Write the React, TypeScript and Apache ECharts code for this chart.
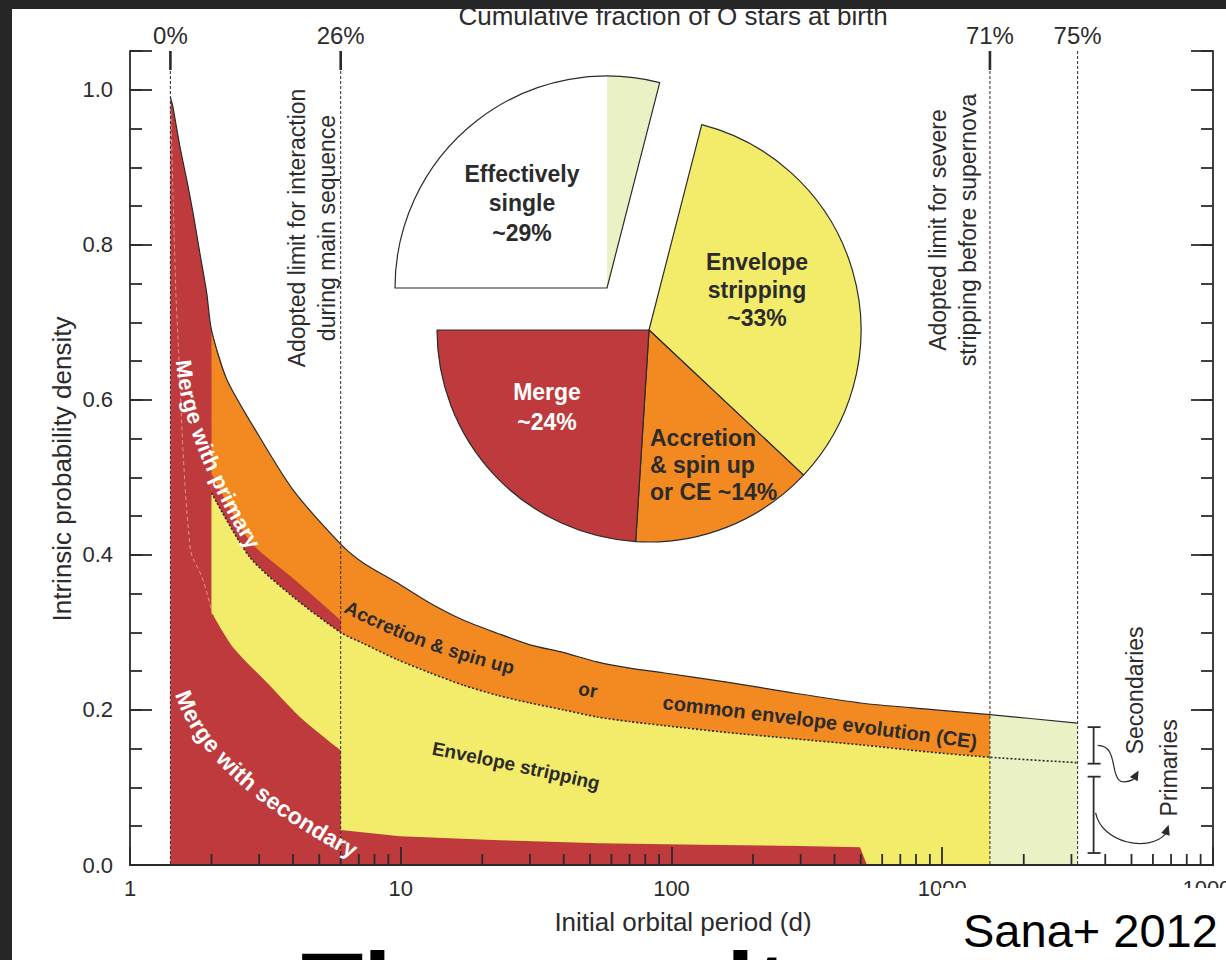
import React, { useEffect, useRef } from "react";
import * as echarts from "echarts";

const FONT = '"Liberation Sans", Arial, Helvetica, sans-serif';
const INK = "#2b2b2b";
const RED = "#BE3A3D";
const ORANGE = "#F28A21";
const YELLOW = "#F3EC6B";
const PALE = "#E9F1C5";
const FRAME = "#262626";

// Outer envelope: all O stars that interact (period in days, density)
const totalPeriods = [1.41, 1.44, 1.53, 1.62, 1.71, 1.81, 1.92, 2.0, 2.28, 3.0, 4.0, 6.0, 7.25, 9.7, 12.8, 17, 22.7, 30, 40, 53, 70, 93, 160, 280, 500, 880, 1500, 3162];
const totalDensity = [0.99, 0.978, 0.926, 0.884, 0.841, 0.79, 0.738, 0.69, 0.626, 0.553, 0.484, 0.414, 0.39, 0.364, 0.338, 0.316, 0.299, 0.284, 0.274, 0.262, 0.254, 0.248, 0.236, 0.222, 0.209, 0.201, 0.194, 0.183];

// Dotted curve separating secondaries from primaries
const splitPeriods = [2.0, 2.77, 4.0, 6.0, 7.25, 9.7, 12.8, 17, 22.7, 30, 40, 53, 70, 93, 160, 280, 500, 880, 1500, 3162];
const splitDensity = [0.48, 0.397, 0.346, 0.30, 0.286, 0.265, 0.248, 0.232, 0.219, 0.209, 0.2, 0.191, 0.185, 0.18, 0.171, 0.163, 0.155, 0.146, 0.139, 0.132];

// Upper edge of the "merge with primary" band
const mergePrimaryPeriods = [2.0, 2.77, 4.0, 6.0];
const mergePrimaryDensity = [0.505, 0.418, 0.37, 0.316];

// Upper edge of the "merge with secondary" region
const mergeSecShortPeriods = [2.0, 2.4, 3.21, 4.24, 6.0];
const mergeSecShortDensity = [0.326, 0.281, 0.235, 0.191, 0.148];
const mergeSecLongPeriods = [6.0, 9.94, 23.2, 54.4, 127, 298, 497, 527];
const mergeSecLongDensity = [0.045, 0.037, 0.032, 0.028, 0.026, 0.0245, 0.023, 0];

// Faint trace of the secondary-merger edge inside the shortest-period strip
const faintPeriods = [1.41, 1.466, 1.488, 1.666, 1.86, 2.0];
const faintDensity = [0.99, 0.777, 0.712, 0.41, 0.368, 0.329];

// Adopted period limits and the cumulative fraction of O stars at each
const limitPeriods = [1.41, 6, 1500, 3162];
const cumulativeFraction = [0, 26, 71, 75];

// Pie shares (%)
const shareMerge = 24;
const shareAccretion = 14;
const shareStripping = 33;
const shareSingle = 100 - cumulativeFraction[2];
const shareWide = cumulativeFraction[3] - cumulativeFraction[2];

// Log-axis minor ticks
const tickDecades = [1, 10, 100, 1000];
const tickMantissas = [2, 3, 4, 5, 6, 7, 8, 9];

const Y_MAX = 1.05;
const SMOOTH = 0.25;

const zip = (xs: number[], ys: number[]) => xs.map((x, i) => [x, ys[i]]);
const within = (xs: number[], ys: number[], lo: number, hi: number) =>
  zip(xs, ys).filter(([x]) => x >= lo && x <= hi);

let measureCtx: CanvasRenderingContext2D | null = null;
function textWidth(text: string, font: string) {
  if (!measureCtx) measureCtx = document.createElement("canvas").getContext("2d");
  measureCtx!.font = font;
  return measureCtx!.measureText(text).width;
}

// Lay a string out letter by letter along a quadratic Bezier, centred on it
function textOnCurve(
  text: string,
  p0: number[],
  c: number[],
  p2: number[],
  size: number,
  fill: string,
  weight = "bold"
) {
  const font = `${weight} ${size}px ${FONT}`;
  const N = 160;
  const pts: number[][] = [];
  for (let i = 0; i <= N; i++) {
    const t = i / N;
    const a = (1 - t) * (1 - t), b = 2 * (1 - t) * t, d = t * t;
    pts.push([a * p0[0] + b * c[0] + d * p2[0], a * p0[1] + b * c[1] + d * p2[1]]);
  }
  const cum = [0];
  for (let i = 1; i <= N; i++) {
    cum.push(cum[i - 1] + Math.hypot(pts[i][0] - pts[i - 1][0], pts[i][1] - pts[i - 1][1]));
  }
  const L = cum[N];
  const W = textWidth(text, font);
  const start = (L - W) / 2;
  const out: any[] = [];
  for (let i = 0; i < text.length; i++) {
    const ch = text[i];
    if (ch === " ") continue;
    const s = start + textWidth(text.slice(0, i), font) + textWidth(ch, font) / 2;
    let k = 1;
    const sc = Math.min(Math.max(s, 0), L);
    while (k < N && cum[k] < sc) k++;
    const seg = cum[k] - cum[k - 1] || 1;
    const f = (s - cum[k - 1]) / seg;
    const x = pts[k - 1][0] + f * (pts[k][0] - pts[k - 1][0]);
    const y = pts[k - 1][1] + f * (pts[k][1] - pts[k - 1][1]);
    const ang = Math.atan2(pts[k][1] - pts[k - 1][1], pts[k][0] - pts[k - 1][0]);
    out.push({
      type: "text",
      x,
      y,
      rotation: -ang,
      z: 100,
      silent: true,
      style: {
        text: ch,
        font,
        fill,
        align: "center",
        verticalAlign: "middle",
        textAlign: "center",
        textVerticalAlign: "middle",
      },
    });
  }
  return out;
}

function label(
  text: string,
  x: number,
  y: number,
  size: number,
  opts: { weight?: string; fill?: string; align?: string; rotation?: number; lineHeight?: number; z?: number } = {}
) {
  const align = opts.align || "center";
  return {
    type: "text",
    x,
    y,
    rotation: opts.rotation || 0,
    z: opts.z || 100,
    silent: true,
    style: {
      text,
      font: `${opts.weight || "normal"} ${size}px ${FONT}`,
      fill: opts.fill || INK,
      align,
      textAlign: align,
      verticalAlign: "middle",
      textVerticalAlign: "middle",
      lineHeight: opts.lineHeight || size * 1.2,
    },
  };
}

function area(data: number[][], color: string, smooth: number | boolean = SMOOTH) {
  return {
    type: "line",
    data,
    symbol: "none",
    smooth,
    silent: true,
    lineStyle: { width: 0, opacity: 0 },
    areaStyle: { color, opacity: 1, origin: "start" },
    xAxisIndex: 0,
    yAxisIndex: 0,
  };
}

function yAxisPair(position: "left" | "right") {
  const common = {
    type: "value",
    position,
    min: 0,
    max: Y_MAX,
    z: 10,
    splitLine: { show: false },
  };
  return [
    {
      ...common,
      interval: 0.2,
      axisLine: { show: true, lineStyle: { color: INK, width: 1.8 } },
      axisTick: { show: true, inside: true, length: 22, lineStyle: { color: INK, width: 1.8 } },
      axisLabel: {
        show: position === "left",
        margin: 17,
        fontSize: 22,
        fontFamily: FONT,
        color: INK,
        formatter: (v: number) =>
          Math.abs(v / 0.2 - Math.round(v / 0.2)) < 1e-6 && v <= 1.0001 ? v.toFixed(1) : "",
      },
    },
    {
      ...common,
      interval: 0.05,
      axisLine: { show: false },
      axisTick: { show: true, inside: true, length: 12, lineStyle: { color: INK, width: 1.8 } },
      axisLabel: { show: false },
    },
  ];
}

function buildOption() {
  const totalPts = zip(totalPeriods, totalDensity);
  const splitPts = zip(splitPeriods, splitDensity);

  const boundaryData = limitPeriods.map((p, i) => [p, 0, cumulativeFraction[i], i]);
  const minorTickData = tickDecades.flatMap((d) => tickMantissas.map((m) => [m * d, 0]));
  const last = totalPeriods.length - 1;
  const bracketData = [[totalPeriods[last], totalDensity[last], splitDensity[splitDensity.length - 1]]];

  const seamPeriod = mergeSecShortPeriods[0];

  const series: any[] = [
    // the shortest-period strip runs a little under the orange layer so no seam shows at 2 d
    area(within(totalPeriods, totalDensity, 1.41, 2.28), RED),
    area(within(totalPeriods, totalDensity, 2.0, 1500), ORANGE),
    area(within(totalPeriods, totalDensity, 1500, 3162), PALE),
    area(zip(mergePrimaryPeriods, mergePrimaryDensity), RED),
    area(within(splitPeriods, splitDensity, 2.0, 1500), YELLOW),
    area(zip(mergeSecShortPeriods, mergeSecShortDensity), RED),
    area(zip(mergeSecLongPeriods, mergeSecLongDensity), RED, false),
    {
      // red stroke that closes the hairline where the two merger regions meet at 2 d
      type: "line",
      data: [
        [seamPeriod, 0],
        [seamPeriod, mergeSecShortDensity[0] - 0.004],
      ],
      symbol: "none",
      silent: true,
      z: 3,
      lineStyle: { color: RED, width: 4, cap: "butt" },
    },
    {
      type: "line",
      data: zip(faintPeriods, faintDensity),
      symbol: "none",
      smooth: 0.35,
      silent: true,
      z: 3,
      lineStyle: { color: "rgba(255,255,255,0.45)", width: 1, type: [4, 3] },
    },
    {
      type: "line",
      data: totalPts,
      symbol: "none",
      smooth: SMOOTH,
      silent: true,
      z: 3,
      lineStyle: { color: INK, width: 1.2 },
    },
    {
      type: "line",
      data: splitPts,
      symbol: "none",
      smooth: SMOOTH,
      silent: true,
      z: 3,
      lineStyle: { color: INK, width: 1.6, type: [2, 2] },
    },
    {
      // period limits: dashed verticals, top ticks and cumulative fractions
      type: "custom",
      silent: true,
      clip: false,
      z: 4,
      data: boundaryData,
      renderItem: (_: any, api: any) => {
        const p = api.value(0);
        const top = api.coord([p, Y_MAX]);
        const bot = api.coord([p, 0]);
        const idx = api.value(3);
        const children: any[] = [
          {
            type: "line",
            shape: { x1: top[0], y1: top[1], x2: bot[0], y2: bot[1] },
            style: { stroke: INK, lineWidth: 1, lineDash: [3, 2] },
          },
          {
            type: "text",
            x: top[0],
            y: top[1] - 16,
            style: {
              text: `${api.value(2)}%`,
              font: `normal 24px ${FONT}`,
              fill: INK,
              align: "center",
              verticalAlign: "middle",
              textAlign: "center",
              textVerticalAlign: "middle",
            },
          },
        ];
        if (idx < 3) {
          children.push({
            type: "line",
            shape: { x1: top[0], y1: top[1], x2: top[0], y2: top[1] + 19 },
            style: { stroke: INK, lineWidth: 2.6 },
          });
        }
        return { type: "group", children };
      },
    },
    {
      // minor ticks of the logarithmic period axis
      type: "custom",
      silent: true,
      clip: false,
      z: 4,
      data: minorTickData,
      renderItem: (_: any, api: any) => {
        const pt = api.coord([api.value(0), 0]);
        return {
          type: "line",
          shape: { x1: pt[0], y1: pt[1], x2: pt[0], y2: pt[1] - 11 },
          style: { stroke: INK, lineWidth: 1.8 },
        };
      },
    },
    {
      // secondaries / primaries brackets with curved pointers
      type: "custom",
      silent: true,
      clip: false,
      z: 4,
      data: bracketData,
      renderItem: (_: any, api: any) => {
        const p = api.value(0);
        const xb = api.coord([p, 0])[0] + 16;
        const yTop = api.coord([p, api.value(1)])[1];
        const ySplit = api.coord([p, api.value(2)])[1];
        const yZero = api.coord([p, 0])[1];
        const s1 = yTop + 4, s2 = ySplit + 1, q1 = ySplit + 14, q2 = yZero - 12;
        const sm = (s1 + s2) / 2, qm = (q1 + q2) / 2;
        const st = { stroke: INK, lineWidth: 1.8 };
        const cap = (y: number) => ({ type: "line", shape: { x1: xb - 6, y1: y, x2: xb + 7, y2: y }, style: st });
        const head = (tx: number, ty: number, fx: number, fy: number) => {
          const a = Math.atan2(ty - fy, tx - fx);
          const bx = tx - 10 * Math.cos(a), by = ty - 10 * Math.sin(a);
          const nx = -Math.sin(a) * 4.5, ny = Math.cos(a) * 4.5;
          return {
            type: "polygon",
            shape: { points: [[tx, ty], [bx + nx, by + ny], [bx - nx, by - ny]] },
            style: { fill: INK },
          };
        };
        const vtext = (text: string, x: number, y: number) => ({
          type: "text",
          x,
          y,
          rotation: Math.PI / 2,
          style: {
            text,
            font: `normal 23px ${FONT}`,
            fill: INK,
            align: "center",
            verticalAlign: "middle",
            textAlign: "center",
            textVerticalAlign: "middle",
          },
        });
        return {
          type: "group",
          children: [
            { type: "line", shape: { x1: xb, y1: s1, x2: xb, y2: s2 }, style: st },
            cap(s1),
            cap(s2),
            { type: "line", shape: { x1: xb, y1: q1, x2: xb, y2: q2 }, style: st },
            cap(q1),
            cap(q2),
            {
              type: "bezierCurve",
              shape: { x1: xb + 4, y1: sm, cpx1: xb + 30, cpy1: sm, cpx2: xb + 10, cpy2: sm + 48, x2: xb + 40, y2: sm + 34 },
              style: { stroke: INK, lineWidth: 1.2, fill: "none" },
            },
            head(xb + 45, sm + 25, xb + 40, sm + 34),
            {
              type: "bezierCurve",
              shape: { x1: xb + 2, y1: qm - 2, cpx1: xb + 8, cpy1: qm + 28, cpx2: xb + 55, cpy2: qm + 38, x2: xb + 72, y2: qm + 19 },
              style: { stroke: INK, lineWidth: 1.2, fill: "none" },
            },
            head(xb + 75, qm + 10, xb + 72, qm + 19),
            vtext("Secondaries", xb + 41, sm - 55),
            vtext("Primaries", xb + 75, qm - 47),
          ],
        };
      },
    },
  ];

  const clear = "rgba(0,0,0,0)";
  const pieBase = {
    type: "pie",
    radius: 212,
    startAngle: 180,
    clockwise: true,
    silent: true,
    label: { show: false },
    labelLine: { show: false },
    emphasis: { disabled: true },
    avoidLabelOverlap: false,
  };
  series.push(
    {
      ...pieBase,
      center: [649, 330],
      itemStyle: { borderColor: INK, borderWidth: 1.2 },
      data: [
        { value: shareSingle, itemStyle: { color: clear, borderWidth: 0 } },
        { value: shareStripping, itemStyle: { color: YELLOW } },
        { value: shareAccretion, itemStyle: { color: ORANGE } },
        { value: shareMerge, itemStyle: { color: RED } },
      ],
    },
    {
      ...pieBase,
      center: [607, 288],
      itemStyle: { borderWidth: 0 },
      data: [
        { value: shareSingle - shareWide, itemStyle: { color: "#ffffff" } },
        { value: shareWide, itemStyle: { color: PALE } },
        { value: 100 - shareSingle, itemStyle: { color: clear } },
      ],
    },
    {
      ...pieBase,
      center: [607, 288],
      data: [
        { value: shareSingle, itemStyle: { color: clear, borderColor: INK, borderWidth: 1.2 } },
        { value: 100 - shareSingle, itemStyle: { color: clear, borderWidth: 0 } },
      ],
    }
  );

  const graphics: any[] = [
    label("Cumulative fraction of O stars at birth", 673, 16, 26),
    label("Intrinsic probability density", 62, 469, 26, { rotation: Math.PI / 2 }),
    label("Initial orbital period (d)", 683, 922, 26),
    label("Adopted limit for interaction\nduring main sequence", 312, 228, 23, { rotation: Math.PI / 2, lineHeight: 30 }),
    label("Adopted limit for severe\nstripping before supernova", 953, 230, 23, { rotation: Math.PI / 2, lineHeight: 30 }),
    label(`Effectively\nsingle\n~${shareSingle}%`, 522, 203, 23, { weight: "bold", lineHeight: 29.5 }),
    label(`Envelope\nstripping\n~${shareStripping}%`, 757, 290, 23, { weight: "bold", lineHeight: 28 }),
    label(`Merge\n~${shareMerge}%`, 547, 407, 23, { weight: "bold", fill: "#ffffff", lineHeight: 30 }),
    label(`Accretion\n& spin up\nor CE ~${shareAccretion}%`, 650, 465, 23, { weight: "bold", align: "left", lineHeight: 27 }),
    ...textOnCurve("Merge with primary", [183, 356], [188, 436], [257, 550], 22, "#ffffff"),
    ...textOnCurve("Merge with secondary", [182, 690], [207, 773], [357, 852], 23, "#ffffff"),
    ...textOnCurve("Accretion & spin up", [346, 606], [420, 645], [514, 668], 19, INK),
    ...textOnCurve("or", [576, 688], [588, 690], [600, 692], 19, INK),
    ...textOnCurve("common envelope evolution (CE)", [662, 702], [820, 720], [978, 742], 20, INK),
    ...textOnCurve("Envelope stripping", [432, 748], [515, 764], [600, 784], 19, INK),
    { type: "rect", z: 150, silent: true, shape: { x: 940, y: 888, width: 300, height: 80 }, style: { fill: "#ffffff" } },
    label("Sana+ 2012", 963, 930, 47, { align: "left", fill: "#000000", z: 160 }),
    // slide heading that continues below the figure
    label("The results", 301, 989, 102, { align: "left", weight: "bold", fill: "#000000", z: 160 }),
    { type: "rect", z: 200, silent: true, shape: { x: 0, y: 0, width: 1226, height: 9 }, style: { fill: FRAME } },
    { type: "rect", z: 200, silent: true, shape: { x: 0, y: 0, width: 12, height: 960 }, style: { fill: FRAME } },
  ];

  return {
    animation: false,
    backgroundColor: "#ffffff",
    grid: { left: 130, right: 13, top: 51, bottom: 95, containLabel: false, outerBoundsMode: "none" },
    xAxis: [
      {
        type: "log",
        logBase: 10,
        min: 1,
        max: 10000,
        position: "bottom",
        z: 10,
        splitLine: { show: false },
        axisLine: { show: true, lineStyle: { color: INK, width: 1.8 } },
        axisTick: { show: true, inside: true, length: 18, lineStyle: { color: INK, width: 1.8 } },
        axisLabel: {
          margin: 12,
          fontSize: 22,
          fontFamily: FONT,
          color: INK,
          formatter: (v: number) => String(Math.round(v)),
        },
      },
      {
        type: "log",
        logBase: 10,
        min: 1,
        max: 10000,
        position: "top",
        z: 10,
        splitLine: { show: false },
        axisLine: { show: true, lineStyle: { color: INK, width: 1.8 } },
        axisTick: { show: false },
        axisLabel: { show: false },
      },
    ],
    yAxis: [...yAxisPair("left"), ...yAxisPair("right")],
    series,
    graphic: { elements: graphics },
  };
}

export default function App() {
  const ref = useRef<HTMLDivElement>(null);
  useEffect(() => {
    const el = ref.current;
    if (!el) return;
    const chart = echarts.init(el, undefined, { renderer: "svg" });
    chart.setOption(buildOption() as any);
    return () => chart.dispose();
  }, []);
  return (
    <div
      ref={ref}
      style={{ position: "fixed", left: 0, top: 0, width: 1226, height: 960, background: "#fff" }}
    />
  );
}
